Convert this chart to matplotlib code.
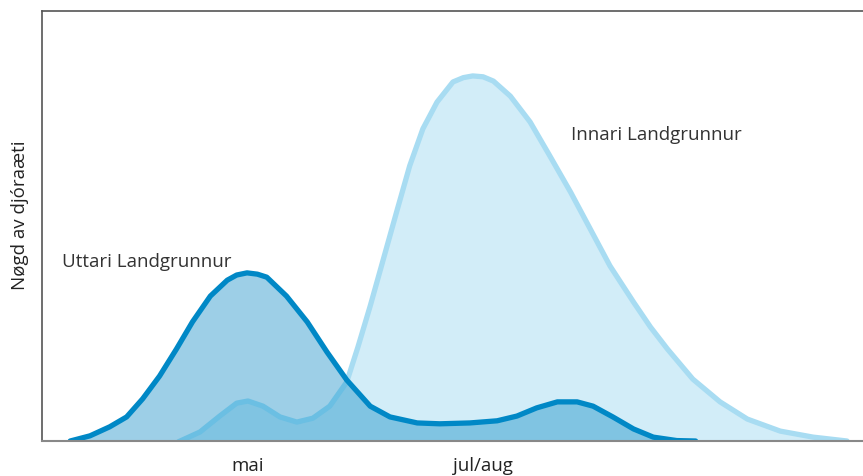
import matplotlib
matplotlib.use("Agg")
import matplotlib.pyplot as plt
from matplotlib.patches import Polygon

plt.rcParams['font.family'] = ['Open Sans', 'DejaVu Sans']

# x i mánaðum (5 = mai), y = relativ nøgd (0-100)
uttari_x = [3.11, 3.32, 3.53, 3.71, 3.88, 4.06, 4.24, 4.41, 4.60, 4.78, 4.88,
            4.99, 5.10, 5.20, 5.41, 5.63, 5.84, 6.05, 6.30, 6.51, 6.80, 7.04,
            7.36, 7.65, 7.86, 8.07, 8.29, 8.50, 8.67, 8.88, 9.10, 9.31, 9.56,
            9.76]
uttari_y = [0, 1.2, 3.3, 5.6, 9.8, 15.1, 21.4, 27.7, 33.7, 37.4, 38.6,
            39.1, 38.8, 38.1, 33.7, 27.7, 20.7, 14.2, 8.1, 5.6, 4.2, 4.0,
            4.2, 4.7, 5.8, 7.7, 9.1, 9.1, 8.1, 5.6, 2.8, 0.9, 0.1,
            0]

innari_x = [4.28, 4.49, 4.70, 4.88, 5.00, 5.16, 5.34, 5.52, 5.69, 5.87, 6.05,
            6.17, 6.30, 6.44, 6.59, 6.72, 6.86, 7.01, 7.18, 7.29, 7.39, 7.50,
            7.61, 7.79, 8.00, 8.21, 8.43, 8.64, 8.85, 9.10, 9.28, 9.46, 9.73,
            10.02, 10.31, 10.66, 11.01, 11.37]
innari_y = [0, 2.1, 5.8, 8.8, 9.3, 8.1, 5.6, 4.4, 5.3, 8.1, 13.7,
            21.9, 31.4, 42.3, 54.0, 64.0, 72.6, 78.8, 83.5, 84.5, 84.9, 84.7,
            83.7, 80.2, 74.2, 66.3, 57.9, 49.3, 40.7, 32.3, 26.5, 21.4, 14.4,
            9.1, 5.1, 2.3, 0.9, 0]

tick_pos = [5, 7.5]
tick_labels = ['mai', 'jul/aug']

fig = plt.figure(figsize=(8.63, 4.77), dpi=100)
ax = fig.add_axes([42 / 863, 35 / 477, 821 / 863, 430 / 477])

# Innari landgrunnur
ax.fill_between(innari_x, innari_y, 0, color='#d2edf8', lw=0, zorder=1)
ax.plot(innari_x, innari_y, color='#a8dcf2', lw=3.8, solid_joinstyle='round',
        solid_capstyle='round', zorder=2)

# Uttari landgrunnur (fylling)
upoly = Polygon(list(zip(uttari_x, uttari_y)), closed=True, facecolor='#9dcfe7',
                edgecolor='none', zorder=3)
ax.add_patch(upoly)

# har tey liggja yvir hvør øðrum
ipoly = Polygon(list(zip(innari_x, innari_y)), closed=True, facecolor='#80c4e2',
                edgecolor='none', zorder=4)
ax.add_patch(ipoly)
ipoly.set_clip_path(upoly)
iline, = ax.plot(innari_x, innari_y, color='#6bbfe3', lw=3.8, solid_joinstyle='round',
                 zorder=5)
iline.set_clip_path(upoly)

ax.plot(uttari_x, uttari_y, color='#0088c6', lw=3.8, solid_joinstyle='round',
        solid_capstyle='round', zorder=6)

ax.text(3.02, 41.9, 'Uttari Landgrunnur', fontsize=13.5, color='#333333', va='center')
ax.text(8.43, 71.4, 'Innari Landgrunnur', fontsize=13.5, color='#333333', va='center')

ax.set_xlim(2.81, 11.54)
ax.set_ylim(0, 100)
ax.set_xticks(tick_pos)
ax.set_xticklabels(tick_labels, fontsize=13.5, color='#222222')
ax.set_yticks([])
ax.tick_params(axis='x', length=0, pad=11)
ax.set_ylabel('Nøgd av djóraæti', fontsize=13.5, color='#222222')
ax.yaxis.set_label_coords(-0.016, 0.528)

ax.spines['right'].set_visible(False)
for s in ['left', 'top']:
    ax.spines[s].set_color('#555555')
    ax.spines[s].set_linewidth(1.2)
ax.spines['bottom'].set_color('#888888')
ax.spines['bottom'].set_linewidth(1.5)
ax.spines['bottom'].set_zorder(7)

fig.savefig('out.png', dpi=100)
